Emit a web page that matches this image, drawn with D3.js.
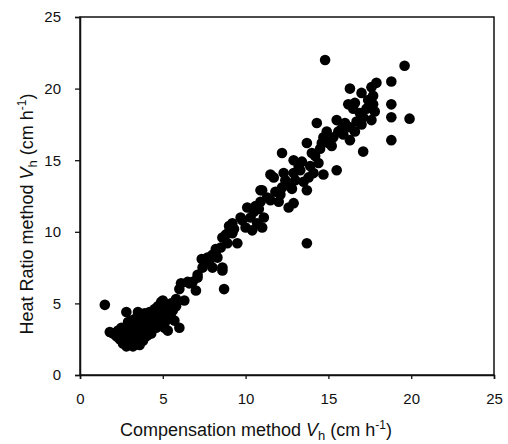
<!DOCTYPE html>
<html><head><meta charset="utf-8">
<script src="https://cdn.jsdelivr.net/npm/d3@7"></script>
<style>body{margin:0;background:#fff}svg{display:block}</style>
</head><body>
<script>
// Compensation method Vh (x) and Heat Ratio method Vh (y), cm h-1
const compensation = [
1.5,1.8,2.0,2.2,2.3,2.4,2.5,2.5,2.6,2.7,2.7,2.8,2.8,2.9,2.9,3.0,3.0,3.0,3.1,3.1,
3.2,3.2,3.3,3.3,3.4,3.4,3.5,3.5,3.5,3.6,3.6,3.7,3.7,3.7,3.8,3.8,3.9,3.9,4.0,4.0,
4.0,4.1,4.1,4.2,4.2,4.3,4.3,4.4,4.4,4.5,4.5,4.6,4.6,4.7,4.7,4.8,4.8,4.9,4.9,5.0,
5.0,5.1,5.2,5.2,5.3,5.4,5.5,5.6,5.7,6.0,5.8,5.0,6.1,6.3,6.6,7.0,7.1,6.5,
3.2,3.6,2.6,3.0,3.8,4.1,2.9,3.3,
7.1,7.4,7.35,7.7,8.0,8.0,8.3,8.5,8.6,8.6,8.7,8.6,8.9,9.2,9.2,9.5,9.3,9.7,10.0,10.1,
10.7,11.0,11.1,10.9,10.9,10.5,11.5,12.0,12.1,12.6,11.0,11.7,12.2,12.3,12.8,12.9,13.5,13.7,12.9,14.1,
14.7,12.9,13.4,14.0,14.5,12.2,11.5,13.7,14.3,14.9,15.6,15.5,15.5,13.7,14.8,16.3,17.1,16.2,16.9,16.3,
17.0,16.5,16.7,16.3,17.0,17.1,16.0,15.8,17.6,17.9,17.7,17.7,17.8,17.6,18.8,18.8,18.8,18.8,19.6,19.9,
15.0,14.7,15.2,13.3,13.8,14.4,10.8,9.0,8.2,12.5,
9.8,10.3,10.4,10.6,11.3,11.8,12.4,13.0,13.2,13.9,14.2,14.6,15.3,15.9,16.6,17.3,17.4,16.6,7.8,8.2,
8.8,9.0,6.8,6.0,5.8,5.5
];
const heatRatio = [
4.9,3.0,2.9,2.7,3.1,2.5,2.8,3.3,2.2,2.6,3.0,4.4,2.0,2.4,3.5,2.1,2.8,3.2,2.5,3.8,
2.3,3.0,2.7,3.4,2.2,3.9,2.9,3.6,4.4,2.5,3.2,2.8,3.5,4.1,2.4,3.0,3.7,4.3,2.7,3.3,
4.0,3.0,3.6,4.4,3.2,3.9,2.9,4.2,3.5,3.8,4.6,3.3,4.0,4.8,3.6,4.3,3.9,5.1,3.5,4.5,
4.0,3.3,4.8,3.8,3.1,4.3,5.0,4.5,3.8,3.3,5.3,5.2,6.4,5.2,6.4,5.9,7.0,6.5,
2.0,2.1,2.4,2.5,2.6,2.8,3.7,3.9,
6.8,7.5,8.1,8.2,7.5,8.4,8.2,8.9,7.5,9.6,6.0,7.3,9.2,9.9,10.6,9.2,10.2,11.0,10.3,11.7,
10.6,10.3,11.0,12.1,12.9,11.4,12.2,12.1,12.6,11.7,12.9,13.8,13.1,14.1,13.0,12.0,13.5,12.9,14.1,14.1,
14.0,15.0,14.9,15.5,15.8,15.5,14.0,16.2,17.6,17.0,17.0,17.8,14.3,9.2,22.0,16.4,15.6,18.9,18.3,20.0,
19.7,18.6,17.7,17.3,17.5,18.0,17.6,17.2,20.1,20.4,19.5,18.9,18.4,17.8,20.5,18.9,18.0,16.4,21.6,17.9,
16.2,16.6,16.0,14.3,13.8,14.8,11.6,10.0,8.8,13.4,
10.8,11.0,10.1,11.8,12.4,12.8,13.6,13.6,14.6,14.6,15.3,16.2,16.6,16.8,17.0,18.6,19.2,19.0,7.9,8.6,
9.8,10.4,6.5,6.0,4.8,4.0
];
const xTicks = [0,5,10,15,20,25];
const yTicks = [0,5,10,15,20,25];

const W = 508, H = 444;
const mLeft = 80, mRight = 494, mTop = 17, mBottom = 375;
const svg = d3.select("body").append("svg").attr("width", W).attr("height", H)
  .style("font-family", "'Liberation Sans', Arial, sans-serif");

const x = d3.scaleLinear().domain([0, 25]).range([mLeft, mRight]);
const y = d3.scaleLinear().domain([0, 25]).range([mBottom, mTop]);

// frame
svg.append("rect").attr("x", mLeft).attr("y", mTop).attr("width", mRight-mLeft).attr("height", mBottom-mTop)
  .attr("fill", "none").attr("stroke", "#111").attr("stroke-width", 1.5);

const xAxis = svg.append("g").attr("transform", `translate(0,${mBottom})`)
  .call(d3.axisBottom(x).tickValues(xTicks).tickSize(4).tickPadding(14).tickFormat(d3.format("d")));
const yAxis = svg.append("g").attr("transform", `translate(${mLeft},0)`)
  .call(d3.axisLeft(y).tickValues(yTicks).tickSize(5).tickPadding(14).tickFormat(d3.format("d")));
[xAxis, yAxis].forEach(g => {
  g.select(".domain").attr("stroke", "#111").attr("stroke-width", 1.5);
  g.selectAll(".tick line").attr("stroke", "#111").attr("stroke-width", 1.3);
  g.selectAll(".tick text").attr("font-size", 15).attr("fill", "#111")
    .attr("font-family", "'Liberation Sans', Arial, sans-serif");
});

// points
const pts = compensation.map((c, i) => [c, heatRatio[i]]);
svg.append("g").selectAll("circle").data(pts).enter().append("circle")
  .attr("cx", d => x(d[0])).attr("cy", d => y(d[1])).attr("r", 5.3).attr("fill", "#000");

// x title
const xt = svg.append("text").attr("x", 256).attr("y", 436)
  .attr("text-anchor", "middle").attr("font-size", 18).attr("fill", "#111");
xt.append("tspan").text("Compensation method ");
xt.append("tspan").attr("font-style", "italic").text("V");
xt.append("tspan").attr("font-size", 13).attr("dy", 4).text("h");
xt.append("tspan").attr("dy", -4).text(" (cm h");
xt.append("tspan").attr("font-size", 12).attr("dy", -7).text("-1");
xt.append("tspan").attr("dy", 7).text(")");

// y title
const yt = svg.append("text").attr("transform", `translate(33,${214}) rotate(-90)`)
  .attr("text-anchor", "middle").attr("font-size", 18).attr("fill", "#111");
yt.append("tspan").text("Heat Ratio method ");
yt.append("tspan").attr("font-style", "italic").text("V");
yt.append("tspan").attr("font-size", 13).attr("dy", 4).text("h");
yt.append("tspan").attr("dy", -4).text(" (cm h");
yt.append("tspan").attr("font-size", 12).attr("dy", -7).text("-1");
yt.append("tspan").attr("dy", 7).text(")");
</script>
</body></html>
